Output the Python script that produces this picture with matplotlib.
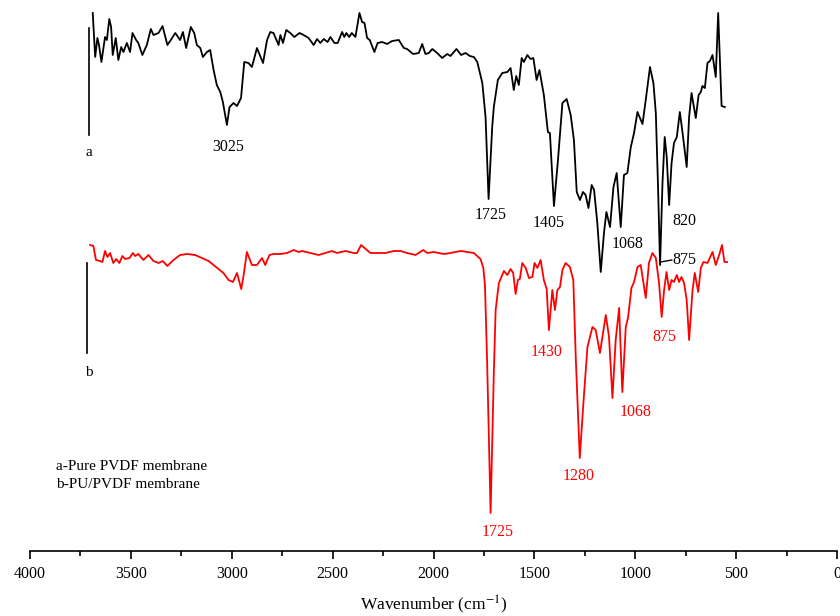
import numpy as np
import matplotlib
matplotlib.use("Agg")
import matplotlib.pyplot as plt

plt.rcParams['font.family'] = ['Liberation Serif', 'DejaVu Serif']
plt.rcParams['mathtext.fontset'] = 'stix'

# spectrum a: pure PVDF membrane (offset upward)
wn_a = [3689, 3677, 3666, 3658, 3646, 3628, 3619, 3607, 3598, 3590, 3575, 3562,
        3548, 3537, 3520, 3504, 3492, 3474, 3463, 3443, 3421, 3401, 3388, 3363,
        3343, 3319, 3302, 3280, 3256, 3242, 3226, 3203, 3186, 3173, 3156, 3143,
        3123, 3107, 3090, 3074, 3057, 3044, 3024, 3011, 2991, 2974, 2954, 2938,
        2917, 2900, 2875, 2845, 2825, 2809, 2793, 2768, 2759, 2746, 2730, 2710,
        2690, 2664, 2644, 2619, 2594, 2577, 2561, 2544, 2525, 2511, 2491, 2475,
        2453, 2442, 2432, 2418, 2405, 2387, 2367, 2354, 2342, 2329, 2316, 2293,
        2277, 2255, 2230, 2205, 2172, 2147, 2131, 2101, 2073, 2056, 2040, 2023,
        2006, 1982, 1957, 1932, 1916, 1886, 1863, 1841, 1820, 1800, 1783, 1758,
        1742, 1727, 1709, 1701, 1681, 1659, 1634, 1618, 1602, 1590, 1577, 1563,
        1552, 1535, 1519, 1505, 1489, 1475, 1453, 1433, 1423, 1403, 1383, 1361,
        1340, 1320, 1304, 1290, 1274, 1259, 1246, 1232, 1216, 1204, 1188, 1171,
        1155, 1143, 1125, 1108, 1092, 1072, 1056, 1039, 1022, 1006, 989, 964,
        948, 927, 910, 898, 887, 877, 865, 854, 844, 832, 820, 808, 794, 779,
        766, 745, 733, 721, 700, 686, 675, 667, 655, 642, 630, 617, 601, 589,
        572, 556]
t_a = [538, 494, 513, 506, 489, 514, 511, 532, 524, 496, 513, 491, 504, 499,
       508, 499, 518, 511, 508, 496, 506, 522, 516, 518, 525, 506, 511, 518,
       511, 519, 503, 524, 518, 506, 503, 494, 499, 501, 481, 466, 459, 449,
       426, 444, 448, 445, 453, 489, 488, 484, 503, 488, 511, 519, 518, 506,
       516, 508, 521, 518, 514, 518, 516, 513, 506, 512, 508, 512, 509, 514,
       508, 508, 519, 514, 518, 514, 518, 514, 538, 529, 528, 513, 511, 499,
       508, 509, 507, 510, 511, 503, 502, 497, 498, 507, 497, 498, 502, 498,
       493, 497, 495, 502, 496, 498, 495, 494, 489, 468, 434, 352, 424, 444,
       471, 478, 479, 483, 461, 475, 466, 493, 489, 496, 492, 493, 471, 481,
       456, 419, 418, 345, 391, 448, 452, 436, 411, 359, 351, 359, 356, 343,
       366, 361, 328, 279, 318, 339, 324, 364, 378, 324, 376, 378, 404, 418,
       439, 427, 451, 484, 468, 438, 364, 286, 368, 414, 394, 346, 388, 408,
       414, 439, 419, 384, 434, 458, 433, 456, 459, 465, 463, 488, 490, 496,
       474, 538, 445, 444]

# spectrum b: PU/PVDF membrane
wn_b = [3702, 3686, 3673, 3653, 3641, 3628, 3616, 3603, 3587, 3573, 3557, 3542,
        3529, 3507, 3490, 3479, 3463, 3438, 3413, 3388, 3363, 3342, 3319, 3289,
        3256, 3222, 3181, 3148, 3115, 3090, 3066, 3041, 3016, 2994, 2974, 2953,
        2941, 2925, 2900, 2875, 2850, 2834, 2813, 2793, 2759, 2726, 2693, 2669,
        2652, 2610, 2569, 2536, 2503, 2478, 2437, 2395, 2379, 2359, 2342, 2313,
        2279, 2238, 2197, 2164, 2131, 2089, 2051, 2031, 1999, 1949, 1916, 1866,
        1833, 1800, 1767, 1753, 1745, 1734, 1717, 1701, 1692, 1676, 1651, 1634,
        1618, 1605, 1593, 1582, 1572, 1560, 1543, 1527, 1510, 1499, 1485, 1469,
        1453, 1439, 1428, 1411, 1398, 1386, 1373, 1361, 1345, 1324, 1307, 1295,
        1275, 1257, 1237, 1212, 1196, 1175, 1146, 1130, 1113, 1097, 1080, 1064,
        1047, 1036, 1019, 1006, 989, 973, 948, 932, 915, 898, 882, 869, 857, 845,
        832, 820, 808, 794, 783, 771, 758, 745, 733, 716, 705, 688, 675, 662, 642,
        617, 601, 584, 570, 558, 545]
t_b = [306, 305, 291, 290, 289, 300, 294, 298, 288, 292, 288, 295, 292, 293,
       298, 295, 297, 291, 296, 290, 288, 290, 285, 291, 296, 297, 296, 293,
       290, 286, 282, 278, 271, 269, 278, 262, 276, 299, 286, 286, 293, 286,
       296, 297, 297, 298, 301, 299, 300, 298, 296, 298, 300, 298, 300, 298,
       298, 306, 303, 298, 298, 298, 300, 300, 298, 296, 301, 298, 299, 297,
       298, 300, 299, 298, 292, 283, 266, 188, 38, 178, 241, 268, 280, 276,
       282, 278, 257, 271, 272, 288, 283, 273, 274, 288, 283, 291, 271, 262,
       221, 261, 241, 261, 264, 281, 288, 284, 271, 194, 93, 148, 204, 224,
       221, 198, 236, 214, 153, 211, 243, 159, 224, 233, 263, 269, 284, 286,
       253, 288, 298, 293, 268, 234, 261, 279, 261, 271, 269, 276, 269, 274,
       268, 251, 211, 261, 278, 259, 283, 289, 288, 299, 286, 296, 306, 289, 289]

labels_a = [("3025", 3017, 404), ("1725", 1717, 336), ("1405", 1428, 328),
            ("1068", 1039, 307), ("820", 758, 330)]
labels_b = [("1430", 1439, 199), ("1280", 1283, 75), ("1068", 998, 139),
            ("875", 857, 214), ("1725", 1682, 19)]

fig = plt.figure(figsize=(8.4, 6.16), dpi=100)
ax = fig.add_axes([30 / 840, 65 / 616, 807 / 840, 546 / 616])

ax.plot(wn_a, t_a, color="black", lw=1.3)
ax.plot(wn_b, t_b, color="red", lw=1.3)

# small vertical bars marking each trace
ax.plot([3707, 3707], [416, 523], color="black", lw=1.2)
ax.plot([3716, 3716], [198, 288], color="black", lw=1.2)
ax.text(3707, 399, "a", ha="center", va="center", fontsize=11)
ax.text(3706, 178, "b", ha="center", va="center", fontsize=11)

for s, x, y in labels_a:
    ax.text(x, y, s, ha="center", va="center", fontsize=11.5, color="black")
for s, x, y in labels_b:
    ax.text(x, y, s, ha="center", va="center", fontsize=11.5, color="red")
ax.plot([874, 819], [289, 291], color="black", lw=1.0)
ax.text(817, 291, "875", ha="left", va="center", fontsize=11.5, color="black")

ax.text(3871, 85, "a-Pure PVDF membrane", ha="left", va="center", fontsize=11)
ax.text(3871, 67, "b-PU/PVDF membrane", ha="left", va="center", fontsize=11)

ax.set_xlim(4000, 0)
ax.set_ylim(0, 546)
ax.set_yticks([])
for side in ("left", "right", "top"):
    ax.spines[side].set_visible(False)
ax.spines["bottom"].set_linewidth(1.2)
ax.set_xticks(np.arange(0, 4001, 500))
ax.set_xticks(np.arange(250, 4000, 500), minor=True)
ax.tick_params(axis="x", which="major", direction="out", length=6, width=1.2,
               labelsize=11.5, pad=5)
ax.tick_params(axis="x", which="minor", direction="out", length=3.5, width=1.2)
ax.set_xlabel("Wavenumber (cm$^{-1}$)", fontsize=12.5, labelpad=8)

fig.savefig("out.png", dpi=100)
